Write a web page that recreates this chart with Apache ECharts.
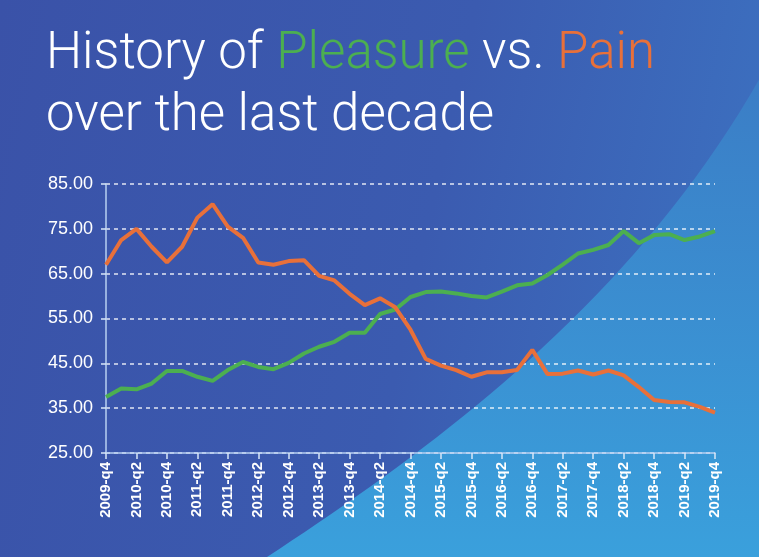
<!DOCTYPE html>
<html>
<head>
    <meta charset="UTF-8">
    <title>History of Pleasure vs. Pain</title>
    <script src="https://cdn.jsdelivr.net/npm/echarts@6/dist/echarts.min.js"></script>
    <style>
        html, body {
            margin: 0;
            padding: 0;
            width: 100%;
            height: 100%;
            background: #3a55ab;
        }
        #chart {
            width: 759px;
            height: 557px;
        }
    </style>
</head>
<body>
<div id="chart"></div>
<script>
    // quarters 2009-q4 .. 2019-q4
    var quarters = [
        '2009-q4',
        '2010-q1', '2010-q2', '2010-q3', '2010-q4',
        '2011-q1', '2011-q2', '2011-q3', '2011-q4',
        '2012-q1', '2012-q2', '2012-q3', '2012-q4',
        '2013-q1', '2013-q2', '2013-q3', '2013-q4',
        '2014-q1', '2014-q2', '2014-q3', '2014-q4',
        '2015-q1', '2015-q2', '2015-q3', '2015-q4',
        '2016-q1', '2016-q2', '2016-q3', '2016-q4',
        '2017-q1', '2017-q2', '2017-q3', '2017-q4',
        '2018-q1', '2018-q2', '2018-q3', '2018-q4',
        '2019-q1', '2019-q2', '2019-q3', '2019-q4'
    ];

    var pleasure = [
        37.5, 39.4, 39.2, 40.5, 43.3, 43.3, 42.0, 41.1, 43.5, 45.3,
        44.2, 43.7, 45.1, 47.2, 48.7, 49.8, 51.8, 51.8, 56.0, 57.0,
        59.8, 60.9, 61.0, 60.6, 60.0, 59.7, 61.0, 62.4, 62.8, 64.7,
        67.0, 69.5, 70.3, 71.4, 74.5, 71.8, 73.6, 73.8, 72.5, 73.3,
        74.5
    ];

    var pain = [
        67.0, 72.5, 75.0, 71.0, 67.5, 71.0, 77.5, 80.5, 75.5, 73.0,
        67.5, 67.0, 67.8, 68.0, 64.5, 63.5, 60.5, 58.0, 59.5, 57.5,
        52.5, 46.0, 44.5, 43.5, 42.0, 43.0, 43.0, 43.5, 48.0, 42.6,
        42.7, 43.4, 42.5, 43.4, 42.3, 39.7, 36.8, 36.4, 36.3, 35.3,
        34.0
    ];

    var green = '#4caf50';
    var orange = '#e8703a';

    // decorative light wedge in the bottom right corner (cubic curve)
    function wedgePoints() {
        var p0 = [267, 557], p1 = [430, 450], p2 = [640, 300], p3 = [770, 60];
        var pts = [];
        for (var i = 0; i <= 40; i++) {
            var t = i / 40, u = 1 - t;
            pts.push([
                u * u * u * p0[0] + 3 * u * u * t * p1[0] + 3 * u * t * t * p2[0] + t * t * t * p3[0],
                u * u * u * p0[1] + 3 * u * u * t * p1[1] + 3 * u * t * t * p2[1] + t * t * t * p3[1]
            ]);
        }
        pts.push([770, 557]);
        return pts;
    }

    var chart = echarts.init(document.getElementById('chart'));

    var option = {
        backgroundColor: {
            type: 'linear', x: 0, y: 0, x2: 1, y2: 0.3,
            colorStops: [
                { offset: 0, color: '#3a52a8' },
                { offset: 0.6, color: '#3b5bb0' },
                { offset: 1, color: '#3c6fbf' }
            ]
        },
        graphic: [
            {
                type: 'polygon',
                z: -10,
                silent: true,
                shape: { points: wedgePoints() },
                style: {
                    fill: {
                        type: 'linear', x: 0, y: 0, x2: 0, y2: 1,
                        colorStops: [
                            { offset: 0, color: '#3b7cc5' },
                            { offset: 1, color: '#3aa0dc' }
                        ]
                    }
                }
            }
        ],
        title: {
            left: 41,
            top: 19,
            text: '{w|History of }{g|Pleasure}{w| vs. }{o|Pain}\n{w|over the last decade}',
            textStyle: {
                rich: {
                    w: { color: '#ffffff', fontSize: 51, fontWeight: 300, fontFamily: 'Roboto', lineHeight: 62 },
                    g: { color: green, fontSize: 51, fontWeight: 300, fontFamily: 'Roboto', lineHeight: 62 },
                    o: { color: orange, fontSize: 51, fontWeight: 300, fontFamily: 'Roboto', lineHeight: 62 }
                }
            }
        },
        grid: {
            left: 106,
            right: 44,
            top: 184,
            bottom: 104
        },
        xAxis: {
            type: 'category',
            data: quarters,
            boundaryGap: false,
            axisLine: { lineStyle: { color: '#b8d0f2', width: 1.5 } },
            axisTick: { interval: 1, length: 6, lineStyle: { color: '#d8e6f8', width: 1.5 } },
            axisLabel: {
                interval: 1,
                rotate: 90,
                color: '#ffffff',
                fontSize: 15,
                fontWeight: 'bold',
                fontFamily: 'Liberation Sans',
                margin: 9
            },
            splitLine: { show: false }
        },
        yAxis: {
            type: 'value',
            min: 25,
            max: 85,
            interval: 10,
            axisLine: { show: true, lineStyle: { color: '#b8d0f2', width: 1.5 } },
            axisTick: { show: true, length: 5, lineStyle: { color: '#d8e6f8', width: 1.5 } },
            axisLabel: {
                color: '#ffffff',
                fontSize: 18,
                fontFamily: 'Liberation Sans',
                margin: 13,
                formatter: function (v) { return v.toFixed(2); }
            },
            splitLine: {
                lineStyle: { color: 'rgba(255,255,255,0.85)', type: [4, 4], width: 1.5 }
            }
        },
        series: [
            {
                name: 'Pleasure',
                type: 'line',
                data: pleasure,
                symbol: 'none',
                lineStyle: { color: green, width: 4 },
                itemStyle: { color: green }
            },
            {
                name: 'Pain',
                type: 'line',
                data: pain,
                symbol: 'none',
                lineStyle: { color: orange, width: 4 },
                itemStyle: { color: orange }
            }
        ]
    };

    chart.setOption(option);
</script>
</body>
</html>
